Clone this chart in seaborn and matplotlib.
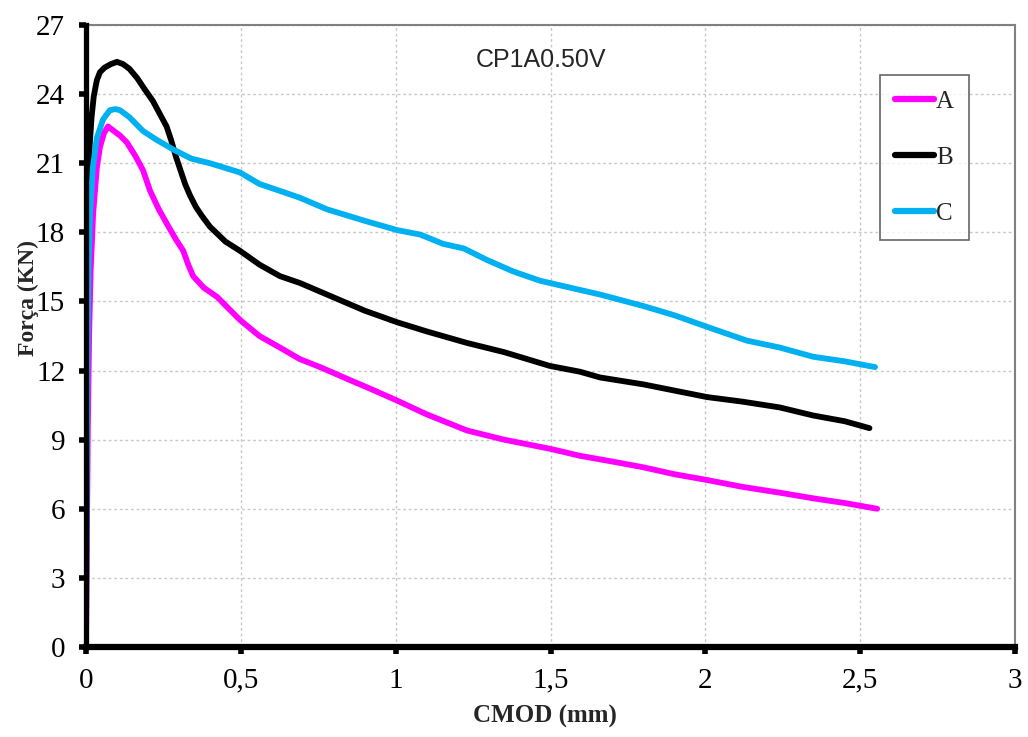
import matplotlib
matplotlib.use("Agg")
import matplotlib.pyplot as plt
import seaborn as sns
import pandas as pd
from matplotlib.lines import Line2D

# ---- data ----
A_x = [0, 0.003, 0.006, 0.01, 0.015, 0.023, 0.035, 0.045, 0.058, 0.071, 0.09, 0.11, 0.132, 0.16,
       0.184, 0.207, 0.235, 0.26, 0.29, 0.314, 0.33, 0.346, 0.38, 0.423, 0.46, 0.497, 0.56, 0.626,
       0.69, 0.756, 0.85, 0.92, 1.004, 1.1, 1.23, 1.35, 1.5, 1.595, 1.7, 1.8, 1.9, 2.005, 2.12,
       2.24, 2.35, 2.45, 2.555]
A_y = [0, 5, 9.5, 13.5, 16.3, 18.8, 20.8, 21.7, 22.3, 22.6, 22.4, 22.2, 21.9, 21.3,
       20.7, 19.8, 19.0, 18.4, 17.7, 17.2, 16.6, 16.1, 15.6, 15.2, 14.7, 14.2, 13.5, 13.0,
       12.5, 12.15, 11.6, 11.2, 10.7, 10.1, 9.4, 9.0, 8.6, 8.3, 8.05, 7.8, 7.5, 7.25, 6.95,
       6.7, 6.45, 6.25, 6.0]

B_x = [0, 0.002, 0.004, 0.007, 0.012, 0.018, 0.025, 0.035, 0.045, 0.06, 0.08, 0.1, 0.12, 0.14,
       0.165, 0.19, 0.216, 0.24, 0.26, 0.275, 0.29, 0.305, 0.32, 0.336, 0.355, 0.375, 0.4, 0.45,
       0.497, 0.56, 0.626, 0.691, 0.778, 0.9, 1.004, 1.1, 1.23, 1.35, 1.498, 1.595, 1.66, 1.8,
       2.005, 2.12, 2.24, 2.348, 2.45, 2.53]
B_y = [0, 9, 15, 19.5, 21.8, 23.0, 23.9, 24.6, 24.95, 25.15, 25.3, 25.4, 25.3, 25.1,
       24.7, 24.2, 23.7, 23.1, 22.6, 22.0, 21.3, 20.7, 20.1, 19.6, 19.1, 18.7, 18.25, 17.6,
       17.2, 16.6, 16.1, 15.8, 15.3, 14.6, 14.1, 13.7, 13.2, 12.8, 12.2, 11.95, 11.7, 11.4,
       10.85, 10.65, 10.4, 10.05, 9.8, 9.5]

C_x = [0, 0.002, 0.005, 0.008, 0.013, 0.022, 0.035, 0.055, 0.077, 0.095, 0.11, 0.14, 0.184,
       0.23, 0.281, 0.34, 0.4, 0.497, 0.56, 0.626, 0.691, 0.778, 0.9, 1.004, 1.08, 1.153, 1.22,
       1.295, 1.38, 1.466, 1.595, 1.66, 1.8, 1.9, 2.005, 2.134, 2.24, 2.348, 2.45, 2.548]
C_y = [0, 7, 13, 16.5, 18.8, 20.8, 22.1, 22.9, 23.3, 23.35, 23.3, 23.0, 22.4,
       22.0, 21.6, 21.2, 21.0, 20.6, 20.1, 19.8, 19.5, 19.0, 18.5, 18.1, 17.9, 17.5, 17.3,
       16.8, 16.3, 15.9, 15.5, 15.3, 14.8, 14.4, 13.9, 13.3, 13.0, 12.6, 12.4, 12.15]

series_names = ["A", "B", "C"]
series_colors = ["#FF00FF", "#000000", "#00B0F0"]
x_ticks = [0, 0.5, 1, 1.5, 2, 2.5, 3]
x_tick_labels = ["0", "0,5", "1", "1,5", "2", "2,5", "3"]
y_ticks = [0, 3, 6, 9, 12, 15, 18, 21, 24, 27]
title_text = "CP1A0.50V"
x_label = "CMOD (mm)"
y_label = "Força (KN)"

# ---- style ----
sns.set_style("white")
plt.rcParams["font.family"] = ["Liberation Serif", "DejaVu Serif"]

fig = plt.figure(figsize=(10.28, 7.37), dpi=100)
ax = fig.add_axes([86 / 1028, 1 - 647 / 737, (1015 - 86) / 1028, (647 - 25) / 737])

frames = []
for name, xs, ys in zip(series_names, [A_x, B_x, C_x], [A_y, B_y, C_y]):
    frames.append(pd.DataFrame({"cmod": xs, "forca": ys, "serie": name}))
df = pd.concat(frames, ignore_index=True)

for name, col in zip(series_names, series_colors):
    sub = df[df["serie"] == name]
    sns.lineplot(data=sub, x="cmod", y="forca", color=col, lw=4.2, sort=False,
                 estimator=None, ax=ax, legend=False, solid_capstyle="round",
                 solid_joinstyle="round", zorder=3)

ax.set_xlim(0, 3)
ax.set_ylim(0, 27)
ax.set_xticks(x_ticks)
ax.set_xticklabels(x_tick_labels)
ax.set_yticks(y_ticks)
ax.tick_params(axis="both", labelsize=21, colors="black")
ax.tick_params(axis="y", direction="out", length=5, width=4, pad=10, left=True)
ax.tick_params(axis="x", direction="out", length=5, width=4, pad=10, bottom=True)

ax.grid(True, color="#c8c8c8", linestyle=(0, (2, 2)), linewidth=1)
ax.set_axisbelow(True)

for s in ["top", "right"]:
    ax.spines[s].set_visible(True)
    ax.spines[s].set_color("#808080")
    ax.spines[s].set_linewidth(1.5)
ax.spines["left"].set_color("black")
ax.spines["left"].set_linewidth(3.8)
ax.spines["bottom"].set_color("black")
ax.spines["bottom"].set_linewidth(4.5)
ax.spines["left"].set_zorder(4)
ax.spines["bottom"].set_zorder(4)

ax.set_xlabel(x_label, fontsize=18, fontweight="bold", va="center")
ax.set_ylabel(y_label, fontsize=17, fontweight="bold", va="center")
ax.xaxis.set_label_coords(0.494, -(716 - 647) / 622)
ax.yaxis.set_label_coords(-(86 - 28) / 929, (647 - 298) / 622)

ax.text(0.49, 0.944, title_text, transform=ax.transAxes, ha="center", va="center",
        fontsize=18, family=["Liberation Sans", "DejaVu Sans"])

handles = [Line2D([0], [0], color=c, lw=4.5, solid_capstyle="round") for c in series_colors]
leg = ax.legend(handles, series_names, loc="upper left",
                bbox_to_anchor=((880 - 86) / 929, (647 - 75) / 622),
                fontsize=18, frameon=True, fancybox=False, handlelength=1.55,
                handletextpad=0.1, labelspacing=1.35, borderpad=0.6, borderaxespad=0)
leg.get_frame().set_edgecolor("#404040")
leg.get_frame().set_linewidth(1.2)

fig.savefig("out.png", dpi=100)
